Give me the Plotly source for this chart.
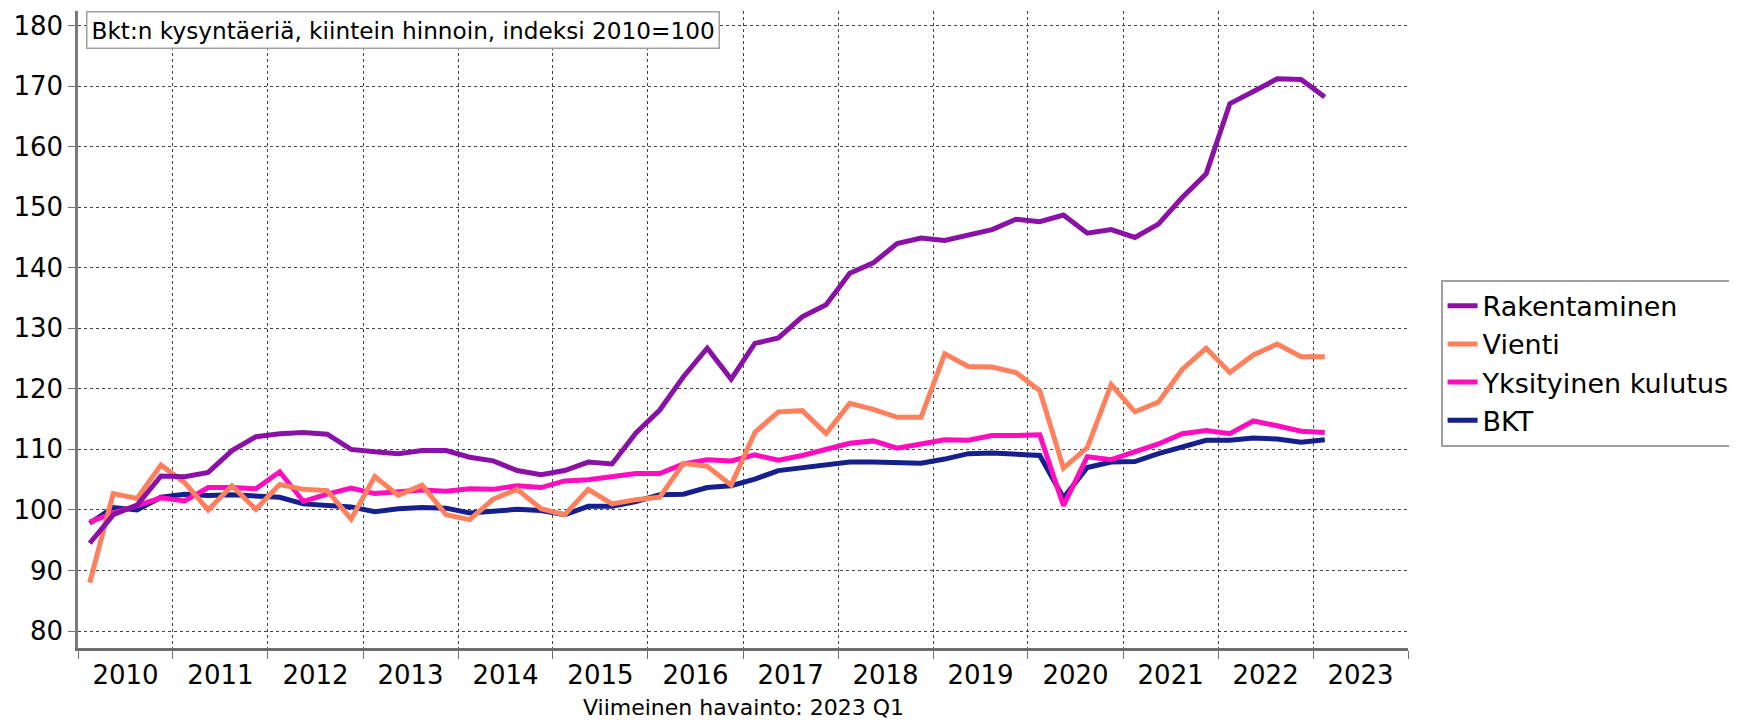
import pandas as pd
import plotly.graph_objects as go

quarters = [str(p) for p in pd.period_range("2010Q1", "2023Q1", freq="Q")]

rakentaminen = [94.5, 99.2, 100.8, 105.6, 105.5, 106.2, 109.8, 112.1, 112.6, 112.8,
                112.5, 110.0, 109.6, 109.3, 109.8, 109.8, 108.7, 108.1, 106.5, 105.8,
                106.5, 107.9, 107.6, 112.7, 116.5, 122.0, 126.7, 121.6, 127.5, 128.4,
                131.9, 133.9, 139.1, 140.8, 144.0, 144.9, 144.5, 145.4, 146.3, 148.0,
                147.6, 148.7, 145.7, 146.3, 145.0, 147.2, 151.6, 155.5, 167.1, 169.1,
                171.2, 171.1, 168.2]
vienti = [88.0, 102.7, 101.9, 107.4, 104.5, 100.0, 104.0, 100.1, 104.2, 103.4,
          103.2, 98.5, 105.5, 102.4, 104.1, 99.2, 98.4, 101.8, 103.4, 100.2,
          99.2, 103.4, 101.0, 101.7, 102.1, 107.7, 107.2, 104.1, 112.8, 116.2,
          116.4, 112.6, 117.6, 116.6, 115.3, 115.3, 125.8, 123.7, 123.6, 122.7,
          119.7, 106.9, 110.3, 120.7, 116.2, 117.8, 123.2, 126.7, 122.7, 125.6,
          127.4, 125.3, 125.3]
yksityinen = [98.0, 99.5, 100.7, 102.0, 101.5, 103.7, 103.7, 103.5, 106.3, 101.4,
              102.6, 103.6, 102.7, 103.0, 103.3, 103.1, 103.5, 103.4, 104.0, 103.7,
              104.8, 105.0, 105.5, 106.0, 106.0, 107.6, 108.3, 108.1, 109.1, 108.2,
              109.0, 109.9, 111.0, 111.4, 110.2, 110.9, 111.6, 111.5, 112.3, 112.3,
              112.4, 100.7, 108.8, 108.3, 109.7, 110.9, 112.6, 113.1, 112.6, 114.7,
              113.9, 113.0, 112.8]
bkt = [97.8, 100.4, 100.0, 102.1, 102.6, 102.4, 102.5, 102.4, 102.1, 101.0,
       100.7, 100.5, 99.7, 100.2, 100.4, 100.3, 99.5, 99.8, 100.1, 99.9,
       99.2, 100.6, 100.6, 101.4, 102.5, 102.6, 103.7, 104.0, 105.1, 106.5,
       107.0, 107.6, 107.9, 107.9, 107.7, 107.7, 108.4, 109.3, 109.4, 109.2,
       109.0, 102.0, 107.0, 107.9, 108.0, 109.3, 110.5, 111.5, 111.5, 111.9,
       111.7, 111.2, 111.6]

y_ticks = [80, 90, 100, 110, 120, 130, 140, 150, 160, 170, 180]

# quarter mid-points as dates
def mid(q):
    p = pd.Period(q, freq="Q")
    return p.start_time + (p.end_time - p.start_time) / 2

x = [mid(q) for q in quarters]

series = [
    ("BKT", bkt, "#151F8E"),
    ("Yksityinen kulutus", yksityinen, "#FF0DBE"),
    ("Vienti", vienti, "#FF805D"),
    ("Rakentaminen", rakentaminen, "#8A11A6"),
]

fig = go.Figure()
for name, vals, col in series:
    fig.add_trace(go.Scatter(x=x, y=vals, name=name, mode="lines",
                             line=dict(color=col, width=5)))

FONT = "DejaVu Sans, Verdana, sans-serif"
GRID = "#444444"

fig.update_layout(
    width=1737, height=720,
    margin=dict(l=70, r=337, t=3, b=80, autoexpand=False),
    paper_bgcolor="white", plot_bgcolor="white",
    font=dict(family=FONT, color="black", size=26),
    showlegend=True,
    legend=dict(x=1.0245, y=0.578, xanchor="left", yanchor="top",
                traceorder="reversed",
                font=dict(family=FONT, size=27, color="black"),
                bgcolor="white", bordercolor="#a0a0a0", borderwidth=2),
    xaxis=dict(type="date", range=["2010-01-01", "2024-01-01"],
               tick0="2010-01-01", dtick="M12", tickformat="%Y",
               ticklabelmode="period", ticklabelstandoff=-6,
               ticks="outside", ticklen=8, tickwidth=1, tickcolor="#707070",
               showgrid=True, gridcolor=GRID, griddash="dot", gridwidth=1,
               showline=True, linecolor="#6e6e6e", linewidth=3,
               zeroline=False, tickfont=dict(size=26)),
    yaxis=dict(range=[77.2, 182.4], tickvals=y_ticks,
               ticks="outside", ticklen=7, tickwidth=1, tickcolor="#707070",
               showgrid=True, gridcolor=GRID, griddash="dot", gridwidth=1,
               showline=True, linecolor="#7a7a7a", linewidth=2.5,
               zeroline=False, tickfont=dict(size=26)),
    annotations=[
        dict(text="Bkt:n kysyntäeriä, kiintein hinnoin, indeksi 2010=100",
             xref="paper", yref="paper", x=0.0063, y=1.0,
             xanchor="left", yanchor="top", showarrow=False,
             font=dict(family=FONT, size=23.2, color="black"),
             bgcolor="white", bordercolor="#a0a0a0", borderwidth=1.5, borderpad=4),
        dict(text="Viimeinen havainto: 2023 Q1",
             xref="paper", yref="paper", x=0.5, y=-0.094,
             xanchor="center", yanchor="middle", showarrow=False,
             font=dict(family=FONT, size=22, color="black")),
    ],
)

fig.write_html("out.html")
